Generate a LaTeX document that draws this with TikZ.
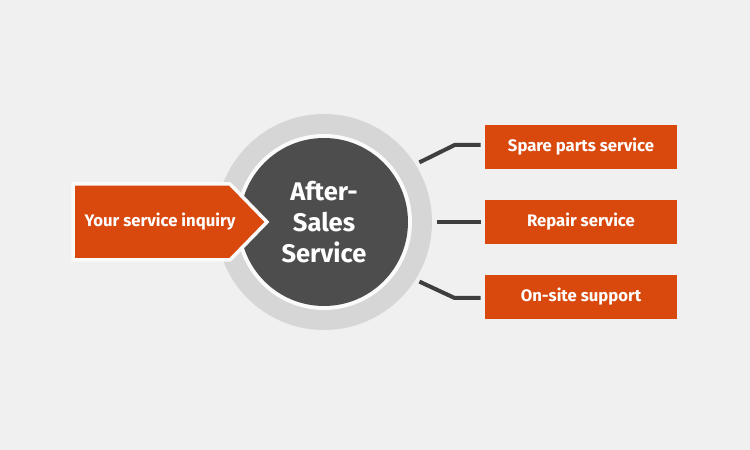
\documentclass[tikz,border=0pt]{standalone}
\usepackage{fontspec}
\setmainfont{Fira Sans}
\usetikzlibrary{calc}
\definecolor{bgGray}{RGB}{240,240,240}
\definecolor{ringGray}{RGB}{214,214,214}
\definecolor{coreGray}{RGB}{77,77,77}
\definecolor{linkGray}{RGB}{62,62,62}
\definecolor{svcOrange}{RGB}{217,72,12}
\begin{document}
\begin{tikzpicture}[
  box/.style={fill=svcOrange, text=white, font=\bfseries\fontsize{9.5}{11}\selectfont,
    minimum width=3.84cm, minimum height=0.88cm, inner sep=0pt},
  link/.style={draw=linkGray, line width=0.08cm}]
  \fill[bgGray] (0,0) rectangle (15,9);
  \useasboundingbox (0,0) rectangle (15,9);
  % ===== Kern =====
  \coordinate (C) at (6.48,4.56);
  \fill[ringGray] (C) circle (2.16);
  \fill[white!70!bgGray] (C) circle (1.76);
  \node[circle, fill=coreGray, minimum size=3.36cm, inner sep=0pt, text=white, align=center,
    font=\bfseries\fontsize{14.5}{17.6}\selectfont] (core) at (C) {After-\\Sales\\Service};
  % ===== Anfrage =====
  \fill[svcOrange, draw=white!70!bgGray, line width=0.07cm]
    (1.46,5.32) -- (4.60,5.32) -- (5.34,4.56) -- (4.60,3.80) -- (1.46,3.80) -- cycle;
  \node[text=white, font=\bfseries\fontsize{9.5}{11}\selectfont] (inquiry) at (3.2,4.56) {Your service inquiry};
  % ===== Leistungen =====
  \node[box] (spare) at (11.62,6.06) {Spare parts service};
  \node[box] (repair) at (11.62,4.56) {Repair service};
  \node[box] (onsite) at (11.62,3.06) {On-site support};
  \draw[link] ($(core.center)+(32:2.25)$) -- ($(spare.west)+(-0.6,0.04)$) -- ($(spare.west)+(-0.08,0.04)$);
  \draw[link] ($(core.center)+(0:2.26)$) -- ($(repair.west)+(-0.08,0)$);
  \draw[link] ($(core.center)+(-32:2.25)$) -- ($(onsite.west)+(-0.6,-0.02)$) -- ($(onsite.west)+(-0.08,-0.02)$);
\end{tikzpicture}
\end{document}
